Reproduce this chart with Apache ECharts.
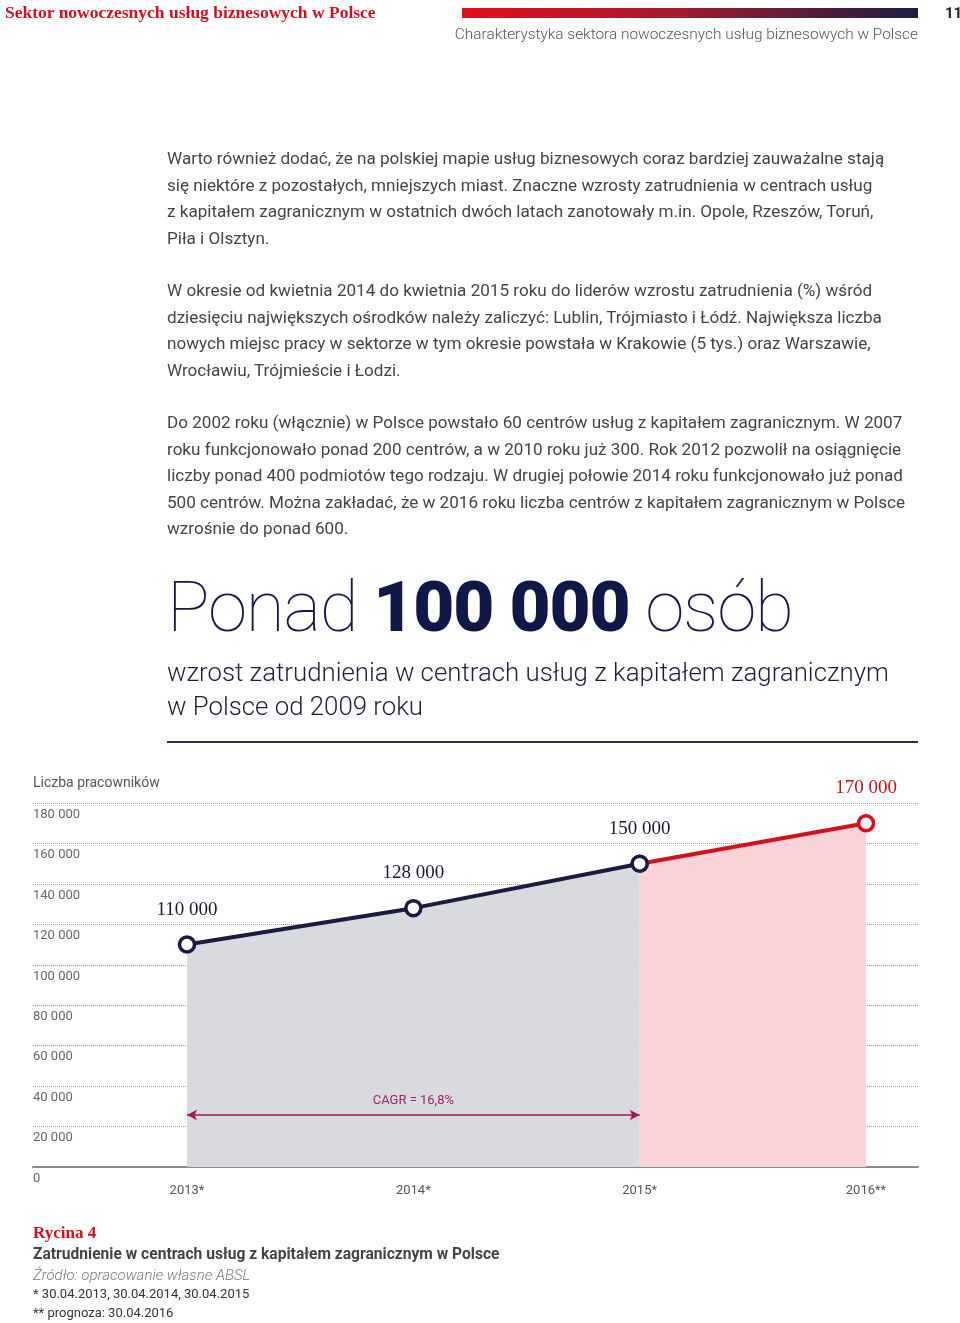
<!DOCTYPE html>
<html><head><meta charset="utf-8">
<script src="https://cdn.jsdelivr.net/npm/echarts@6/dist/echarts.min.js"></script>
<style>
html,body{margin:0;padding:0;background:#fff;}
body{width:960px;height:1323px;position:relative;overflow:hidden;font-family:Roboto,"Noto Sans",sans-serif;}
#chart{position:absolute;left:0;top:0;width:960px;height:1323px;}
.t{position:absolute;white-space:nowrap;}
.body p{margin:0;}
</style></head>
<body>
<div id="chart"></div>
<div class="t" style="left:5px;top:2px;font-family:'Liberation Serif',serif;font-weight:bold;font-size:17.5px;color:#cf1020;">Sektor nowoczesnych usług biznesowych w Polsce</div>
<div class="t" style="left:462px;top:8px;width:456px;height:10px;background:linear-gradient(90deg,#e3101a,#a01a2e 50%,#1c1d45);"></div>
<div class="t" style="left:945px;top:4px;font-size:15px;font-weight:bold;color:#222;">11</div>
<div class="t" style="right:42px;top:25px;font-size:15.4px;color:#555;font-weight:300;">Charakterystyka sektora nowoczesnych usług biznesowych w Polsce</div>

<div class="t body" style="left:167px;top:145px;font-size:17.1px;line-height:26.5px;color:#444;">
<p>Warto również dodać, że na polskiej mapie usług biznesowych coraz bardziej zauważalne stają</p>
<p>się niektóre z pozostałych, mniejszych miast. Znaczne wzrosty zatrudnienia w centrach usług</p>
<p>z kapitałem zagranicznym w ostatnich dwóch latach zanotowały m.in. Opole, Rzeszów, Toruń,</p>
<p>Piła i Olsztyn.</p>
</div>
<div class="t body" style="left:167px;top:277px;font-size:17.1px;line-height:26.5px;color:#444;">
<p>W okresie od kwietnia 2014 do kwietnia 2015 roku do liderów wzrostu zatrudnienia (%) wśród</p>
<p>dziesięciu największych ośrodków należy zaliczyć: Lublin, Trójmiasto i Łódź. Największa liczba</p>
<p>nowych miejsc pracy w sektorze w tym okresie powstała w Krakowie (5 tys.) oraz Warszawie,</p>
<p>Wrocławiu, Trójmieście i Łodzi.</p>
</div>
<div class="t body" style="left:167px;top:409px;font-size:17.1px;line-height:26.6px;color:#444;">
<p>Do 2002 roku (włącznie) w Polsce powstało 60 centrów usług z kapitałem zagranicznym. W 2007</p>
<p>roku funkcjonowało ponad 200 centrów, a w 2010 roku już 300. Rok 2012 pozwolił na osiągnięcie</p>
<p>liczby ponad 400 podmiotów tego rodzaju. W drugiej połowie 2014 roku funkcjonowało już ponad</p>
<p>500 centrów. Można zakładać, że w 2016 roku liczba centrów z kapitałem zagranicznym w Polsce</p>
<p>wzrośnie do ponad 600.</p>
</div>

<div class="t" style="left:167px;top:565px;font-size:71px;line-height:84px;color:#141a45;font-weight:100;letter-spacing:-1.2px;">Ponad <span style="font-weight:900;color:#101848;">100 000</span> osób</div>
<div class="t" style="left:167px;top:655px;font-size:25.8px;line-height:34px;color:#1e1e3a;font-weight:300;">wzrost zatrudnienia w centrach usług z kapitałem zagranicznym<br>w Polsce od 2009 roku</div>
<div class="t" style="left:167px;top:741px;width:751px;height:2px;background:#2a2d55;"></div>

<div class="t" style="left:33px;top:774px;font-size:14px;color:#555;">Liczba pracowników</div>

<div class="t" style="left:33px;top:1223px;font-family:'Liberation Serif',serif;font-weight:bold;font-size:17px;color:#cf1020;">Rycina 4</div>
<div class="t" style="left:33px;top:1245px;font-size:15.6px;font-weight:bold;color:#444;">Zatrudnienie w centrach usług z kapitałem zagranicznym w Polsce</div>
<div class="t" style="left:33px;top:1266px;font-size:15px;font-style:italic;font-weight:300;color:#777;">Źródło: opracowanie własne ABSL</div>
<div class="t" style="left:33px;top:1286px;font-size:13px;color:#333;">* 30.04.2013, 30.04.2014, 30.04.2015</div>
<div class="t" style="left:33px;top:1305px;font-size:13px;color:#333;">** prognoza: 30.04.2016</div>

<script>
// ---- data ----
const categories = ['2013*', '2014*', '2015*', '2016**'];
const employees = [110000, 128000, 150000, 170000];
const forecastFromIndex = 2; // index where forecast segment starts
const yTicks = [0, 20000, 40000, 60000, 80000, 100000, 120000, 140000, 160000, 180000];
const cagrLabel = 'CAGR = 16,8%';
const cagrRange = ['2013*', '2015*'];
const cagrLevel = 25700;

// ---- build series ----
const actual = employees.map((v, i) => i <= forecastFromIndex ? v : null);
const forecast = employees.map((v, i) => i >= forecastFromIndex ? v : null);
const fmt = v => String(v).replace(/\B(?=(\d{3})+(?!\d))/g, ' ');

const chart = echarts.init(document.getElementById('chart'), null, {renderer: 'canvas'});
const TOP = 803, BOTTOM = 1323 - 1167;
const yMax = yTicks[yTicks.length - 1];
const yInt = yTicks[1] - yTicks[0];

chart.setOption({
  animation: false,
  grid: [
    {left: 33, right: 42, top: TOP, bottom: BOTTOM},
    {left: 187, right: 94, top: TOP, bottom: BOTTOM}
  ],
  xAxis: [
    {gridIndex: 0, type: 'value', min: 0, max: 1, axisLabel: {show: false}, axisTick: {show: false}, splitLine: {show: false},
     axisLine: {show: true, lineStyle: {color: '#8a8a8a', width: 2}}},
    {gridIndex: 1, type: 'category', data: categories, boundaryGap: false,
     axisLine: {show: false}, axisTick: {show: false}, splitLine: {show: false},
     axisLabel: {color: '#555', fontSize: 13, fontFamily: 'Roboto', margin: 17}}
  ],
  yAxis: [
    {gridIndex: 0, type: 'value', min: yTicks[0], max: yMax, interval: yInt,
     axisLine: {show: false}, axisTick: {show: false},
     splitLine: {show: true, lineStyle: {color: '#9a9a9a', type: [1, 1], width: 1}},
     axisLabel: {inside: true, margin: 0, align: 'left', verticalAlign: 'top', padding: [5, 0, 0, 0],
                 color: '#666', fontSize: 13, fontFamily: 'Roboto', formatter: fmt}},
    {gridIndex: 1, type: 'value', min: yTicks[0], max: yMax, interval: yInt, show: false}
  ],
  series: [
    {
      type: 'line', xAxisIndex: 1, yAxisIndex: 1, data: actual, z: 3,
      lineStyle: {color: '#1b1a40', width: 4},
      areaStyle: {color: '#d9d9e0', opacity: 1},
      symbol: 'circle', symbolSize: 15, showAllSymbol: true,
      itemStyle: {color: '#fff', borderColor: '#1b1a40', borderWidth: 3.5},
      label: {show: true, position: 'top', distance: 16, formatter: p => fmt(p.value),
              fontFamily: 'Liberation Serif', fontSize: 19, color: '#1b1a30'},
      markLine: {
        silent: true, symbol: ['arrow', 'arrow'], symbolSize: [8, 10],
        lineStyle: {color: '#9a1a55', width: 1.5, type: 'solid'},
        label: {show: true, position: 'middle', formatter: cagrLabel, color: '#a0206a', fontSize: 13, fontFamily: 'Roboto', distance: 8},
        data: [[{coord: [cagrRange[0], cagrLevel]}, {coord: [cagrRange[1], cagrLevel]}]]
      }
    },
    {
      type: 'line', xAxisIndex: 1, yAxisIndex: 1, data: forecast, z: 2,
      lineStyle: {color: '#d5101e', width: 4},
      areaStyle: {color: '#f8d4d9', opacity: 1},
      symbol: 'circle', symbolSize: 15,
      itemStyle: {color: '#fff', borderColor: '#d5101e', borderWidth: 3.5},
      label: {show: true, position: 'top', distance: 16,
              formatter: p => p.dataIndex === forecastFromIndex ? '' : fmt(p.value),
              fontFamily: 'Liberation Serif', fontSize: 19, color: '#c8101c'}
    }
  ]
});
</script>
</body></html>
